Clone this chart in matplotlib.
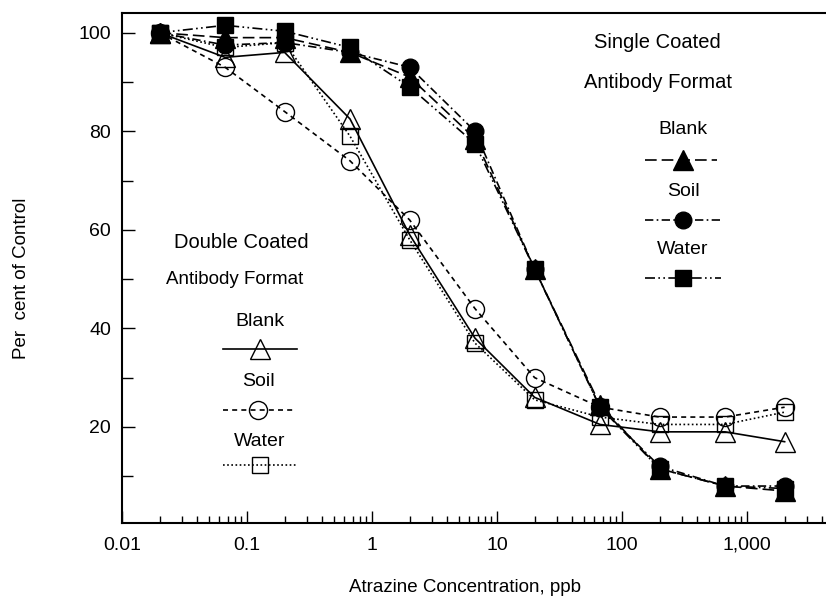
import numpy as np
import matplotlib
matplotlib.use("Agg")
import matplotlib.pyplot as plt
from matplotlib.lines import Line2D
from matplotlib.ticker import FixedLocator, FixedFormatter, NullFormatter

plt.rcParams['font.family'] = ['Liberation Sans', 'DejaVu Sans']

# atrazine concentration, ppb
conc = [0.02, 0.0667, 0.2, 0.667, 2, 6.67, 20, 66.7, 200, 667, 2000]

# double coated antibody format (open symbols)
dbl_blank = [100, 95, 96, 82.5, 59, 38, 26, 20.5, 19, 19, 17]
dbl_soil = [100, 93, 84, 74, 62, 44, 30, 24, 22, 22, 24]
dbl_water = [100, 97, 98, 79, 58, 37, 25.5, 22, 20.5, 20.5, 23]

# single coated antibody format (filled symbols)
sgl_blank = [100, 99, 99, 96, 91, 78.5, 52, 24.5, 11.5, 8, 7]
sgl_soil = [100, 97.5, 98, 96, 93, 80, 52, 24, 12, 8, 8]
sgl_water = [100, 101.5, 100.3, 97, 89, 77.5, 52, 24, 11.5, 8, 7.5]

xticks = [0.01, 0.1, 1, 10, 100, 1000]
xtick_labels = ['0.01', '0.1', '1', '10', '100', '1,000']
yticks = [20, 40, 60, 80, 100]

W, H = 826, 598
fig = plt.figure(figsize=(W / 100, H / 100), dpi=100)
ax = fig.add_axes([122 / W, 75 / H, 750 / W, 510 / H])

styles = {
    'dbl_blank': dict(ls='-', marker='^', ms=15, mfc='none'),
    'dbl_soil': dict(ls=(0, (3, 2.5)), marker='o', ms=13, mfc='none'),
    'dbl_water': dict(ls=(0, (1, 1.5)), marker='s', ms=12, mfc='none'),
    'sgl_blank': dict(ls=(0, (7, 3)), marker='^', ms=14, mfc='black'),
    'sgl_soil': dict(ls=(0, (5, 2, 1, 2)), marker='o', ms=12, mfc='black'),
    'sgl_water': dict(ls=(0, (6, 2, 1, 2, 1, 2)), marker='s', ms=11, mfc='black'),
}
common = dict(color='black', lw=1.2, mec='black', mew=1.0)

series = [('dbl_blank', dbl_blank), ('dbl_soil', dbl_soil), ('dbl_water', dbl_water),
          ('sgl_blank', sgl_blank), ('sgl_soil', sgl_soil), ('sgl_water', sgl_water)]
for key, vals in series:
    ax.plot(conc, vals, **styles[key], **common)

ax.set_xscale('log')
ax.set_xlim(0.01, 10000)
ax.set_ylim(0.5, 104)

ax.xaxis.set_major_locator(FixedLocator(xticks))
ax.xaxis.set_major_formatter(FixedFormatter(xtick_labels))
minors = [m * 10.0 ** e for e in range(-2, 4) for m in range(2, 10)]
ax.xaxis.set_minor_locator(FixedLocator(minors))
ax.xaxis.set_minor_formatter(NullFormatter())
ax.set_yticks(yticks)
ax.set_yticks([10, 30, 50, 70, 90], minor=True)

ax.tick_params(axis='both', which='both', direction='in', top=False, right=False,
               width=1.0, labelsize=14)
ax.tick_params(axis='x', which='major', length=9, pad=10)
ax.tick_params(axis='x', which='minor', length=5)
ax.tick_params(axis='y', which='major', length=9, pad=8)
ax.tick_params(axis='y', which='minor', length=8)
for s in ax.spines.values():
    s.set_linewidth(1.5)

fig.text(465 / W, 1 - 588 / H, 'Atrazine Concentration, ppb', ha='center', va='center', fontsize=13.5)
fig.text(22 / W, 1 - 278 / H, 'Per  cent of Control', ha='center', va='center',
         rotation=90, fontsize=13.5)


def fx(x):
    return x / W


def fy(y):
    return 1 - y / H


def legend_entry(label, xc, y_text, y_line, x0, x1, key):
    fig.text(fx(xc), fy(y_text), label, ha='center', va='center', fontsize=14)
    st = dict(styles[key])
    marker = st.pop('marker')
    ms = st.pop('ms')
    mfc = st.pop('mfc')
    fig.add_artist(Line2D([fx(x0), fx(x1)], [fy(y_line)] * 2, transform=fig.transFigure,
                          color='black', lw=1.2, **st))
    fig.add_artist(Line2D([fx(xc)], [fy(y_line)], transform=fig.transFigure, ls='none',
                          marker=marker, ms=ms, mfc=mfc, mec='black', mew=1.0))


# single coated legend
fig.text(fx(657), fy(43), 'Single Coated', ha='center', va='center', fontsize=14.5)
fig.text(fx(658), fy(82), 'Antibody Format', ha='center', va='center', fontsize=14.5)
legend_entry('Blank', 683, 130, 160, 645, 717, 'sgl_blank')
legend_entry('Soil', 683, 192, 220, 645, 721, 'sgl_soil')
legend_entry('Water', 683, 250, 278, 645, 721, 'sgl_water')

# double coated legend
fig.text(fx(241), fy(242), 'Double Coated', ha='center', va='center', fontsize=14.5)
fig.text(fx(235), fy(280), 'Antibody Format', ha='center', va='center', fontsize=13.5)
legend_entry('Blank', 260, 322, 349, 223, 297, 'dbl_blank')
legend_entry('Soil', 258, 382, 410, 223, 296, 'dbl_soil')
legend_entry('Water', 260, 442, 465, 223, 296, 'dbl_water')

fig.savefig('out.png', dpi=100)
